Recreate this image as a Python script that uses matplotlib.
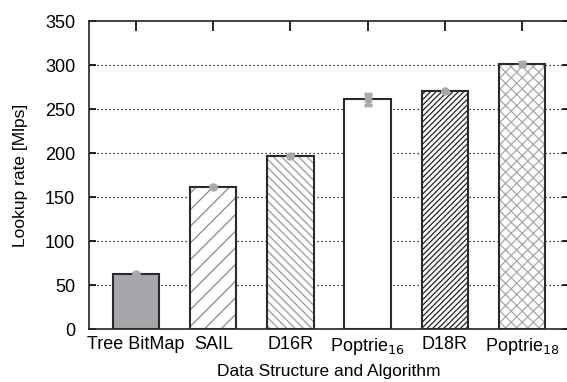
import matplotlib
matplotlib.use("Agg")
import matplotlib.pyplot as plt

plt.rcParams['font.family'] = ['Liberation Sans', 'DejaVu Sans']
plt.rcParams['hatch.linewidth'] = 0.9

names = ["Tree BitMap", "SAIL", "D16R", "Poptrie$_{16}$", "D18R", "Poptrie$_{18}$"]
rates = [62, 161, 197, 261, 270, 301]
errs = [2, 1, 1, 6, 1, 2]

fills = ["#a5a6a9", "white", "white", "white", "white", "white"]
hatches = [None, "//", "\\\\\\\\", None, "//////", "xxx"]
hatch_cols = [None, "#8a8a8a", "#9a9a9a", None, "#222222", "#a8a8a8"]
markers = ["o", "o", "o", "s", "o", "s"]

fig = plt.figure(figsize=(5.67, 3.82), dpi=100)
ax = fig.add_axes([89 / 567, 53 / 382, 480 / 567, 308 / 382])

pos = list(range(len(names)))
ax.set_ylim(0, 350)
ax.set_xlim(-0.61, 5.61)

# dotted grid, only inner lines
for y in [50, 100, 150, 200, 250, 300]:
    ax.axhline(y, color="black", lw=0.9, ls=(0, (1, 2.2)), zorder=0)

for i in pos:
    ax.bar(i, rates[i], width=0.6, color=fills[i], edgecolor=hatch_cols[i] or fills[i],
           hatch=hatches[i], linewidth=0, zorder=2)
    ax.bar(i, rates[i], width=0.6, fill=False, edgecolor="#2a2a2a", linewidth=1.5, zorder=3)
    ax.errorbar(i, rates[i], yerr=errs[i], fmt=markers[i], color="#a9a9ab", ms=5,
                elinewidth=2.5, capsize=3, capthick=2.5, zorder=4)

ax.set_xticks(pos)
ax.set_xticklabels(names, fontsize=13)
ax.tick_params(axis="x", which="both", bottom=False, top=True, direction="in", length=7,
               width=1.2, pad=5)
ax.set_yticks(range(0, 351, 50))
ax.tick_params(axis="y", left=True, right=True, direction="in", length=5, width=1.2,
               labelsize=13, pad=10)
for s in ax.spines.values():
    s.set_linewidth(1.2)
    s.set_color("#222222")

ax.set_ylabel("Lookup rate [Mlps]", fontsize=12.5, labelpad=12)
ax.set_xlabel("Data Structure and Algorithm", fontsize=12.5, labelpad=5)

fig.savefig("out.png", dpi=100)
